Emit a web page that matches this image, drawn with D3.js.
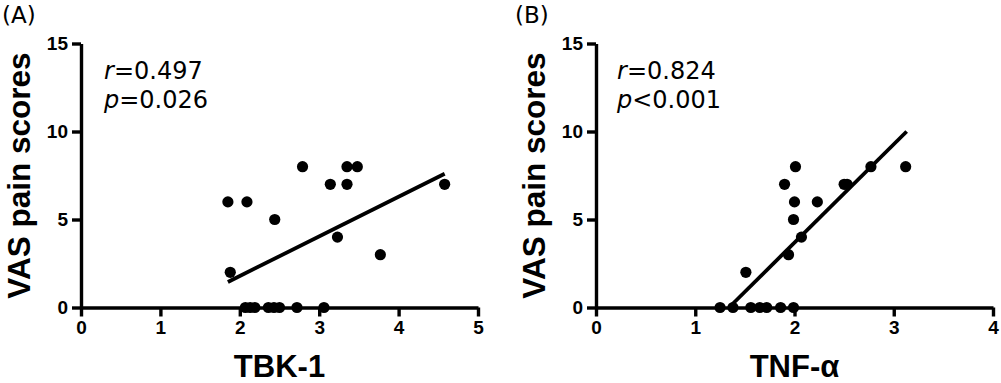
<!DOCTYPE html>
<html><head><meta charset="utf-8">
<script src="https://cdn.jsdelivr.net/npm/d3@7"></script>
<style>body{margin:0;background:#fff}svg{display:block}</style>
</head><body><svg id="c" width="1001" height="383"></svg>
<script>
// Panel A: TBK-1 vs VAS
const tbkX = [1.85, 2.09, 1.88, 2.44, 2.79, 3.14, 3.35, 3.48, 3.35, 3.23, 3.77, 4.58,
              2.07, 2.13, 2.19, 2.36, 2.43, 2.50, 2.72, 3.06];
const tbkY = [6, 6, 2, 5, 8, 7, 8, 8, 7, 4, 3, 7,
              0, 0, 0, 0, 0, 0, 0, 0];
const tbkFit = [[1.85, 1.45], [4.58, 7.6]];
// Panel B: TNF-α vs VAS
const tnfX = [2.01, 1.90, 2.00, 2.23, 1.99, 2.07, 1.94, 1.51, 2.50, 2.53, 2.77, 3.12,
              1.25, 1.38, 1.56, 1.65, 1.72, 1.86, 1.99];
const tnfY = [8, 7, 6, 6, 5, 4, 3, 2, 7, 7, 8, 8,
              0, 0, 0, 0, 0, 0, 0];
const tnfFit = [[1.34, 0], [3.13, 10]];
const yTicks = [0, 5, 10, 15];
const panels = [
  {tag: "(A)", xLabel: "TBK-1", r: "0.497", p: "=0.026", xs: tbkX, ys: tbkY, fit: tbkFit, xMax: 5},
  {tag: "(B)", xLabel: "TNF-α", r: "0.824", p: "<0.001", xs: tnfX, ys: tnfY, fit: tnfFit, xMax: 4}
];
const layout = [
  {x0: 81, x1: 478, tagX: 2, labX: 30, txtX: 104},
  {x0: 596, x1: 993, tagX: 515, labX: 545, txtX: 617}
];
const svg = d3.select("#c");
const yTop = 43.5, yBot = 307.5;
const fmt = d3.format("d");
panels.forEach((P, i) => {
  const L = layout[i];
  const x = d3.scaleLinear().domain([0, P.xMax]).range([L.x0, L.x1]);
  const y = d3.scaleLinear().domain([0, 15]).range([yBot, yTop]);
  const g = svg.append("g");
  const xa = g.append("g").attr("transform", `translate(0,${yBot})`)
    .call(d3.axisBottom(x).tickValues(d3.range(0, P.xMax + 1)).tickFormat(fmt).tickSize(9).tickSizeOuter(0).tickPadding(4));
  const ya = g.append("g").attr("transform", `translate(${L.x0},0)`)
    .call(d3.axisLeft(y).tickValues(yTicks).tickFormat(fmt).tickSize(9).tickSizeOuter(0).tickPadding(4));
  [xa, ya].forEach(a => {
    a.selectAll("path,line").attr("stroke", "#000").attr("stroke-width", 3.4);
    a.selectAll("text").attr("fill", "#000").attr("font-family", "Liberation Sans, Arial, sans-serif")
      .attr("font-weight", "bold").attr("font-size", 19);
  });
  // regression line
  g.append("line")
    .attr("x1", x(P.fit[0][0])).attr("y1", y(P.fit[0][1]))
    .attr("x2", x(P.fit[1][0])).attr("y2", y(P.fit[1][1]))
    .attr("stroke", "#000").attr("stroke-width", 3.8);
  // points
  g.selectAll("circle").data(P.xs.map((v, k) => [v, P.ys[k]])).join("circle")
    .attr("cx", d => x(d[0])).attr("cy", d => y(d[1])).attr("r", 5.6).attr("fill", "#000");
  // axis labels
  g.append("text").attr("transform", `translate(${L.labX},${(yTop + yBot) / 2}) rotate(-90)`)
    .attr("text-anchor", "middle").attr("font-family", "Liberation Sans, Arial, sans-serif")
    .attr("font-weight", "bold").attr("font-size", 31.5).text("VAS pain scores");
  g.append("text").attr("x", (L.x0 + L.x1) / 2).attr("y", 377)
    .attr("text-anchor", "middle").attr("font-family", "Liberation Sans, Arial, sans-serif")
    .attr("font-weight", "bold").attr("font-size", 31).text(P.xLabel);
  // panel tag
  g.append("text").attr("x", L.tagX).attr("y", 23).attr("font-family", "DejaVu Sans, sans-serif")
    .attr("font-size", 23).text(P.tag);
  // stats
  const t1 = g.append("text").attr("x", L.txtX).attr("y", 79).attr("font-family", "DejaVu Sans, sans-serif").attr("font-size", 24);
  t1.append("tspan").attr("font-style", "italic").text("r");
  t1.append("tspan").text("=" + P.r);
  const t2 = g.append("text").attr("x", L.txtX).attr("y", 108).attr("font-family", "DejaVu Sans, sans-serif").attr("font-size", 24);
  t2.append("tspan").attr("font-style", "italic").text("p");
  t2.append("tspan").text(P.p);
});
</script></body></html>
